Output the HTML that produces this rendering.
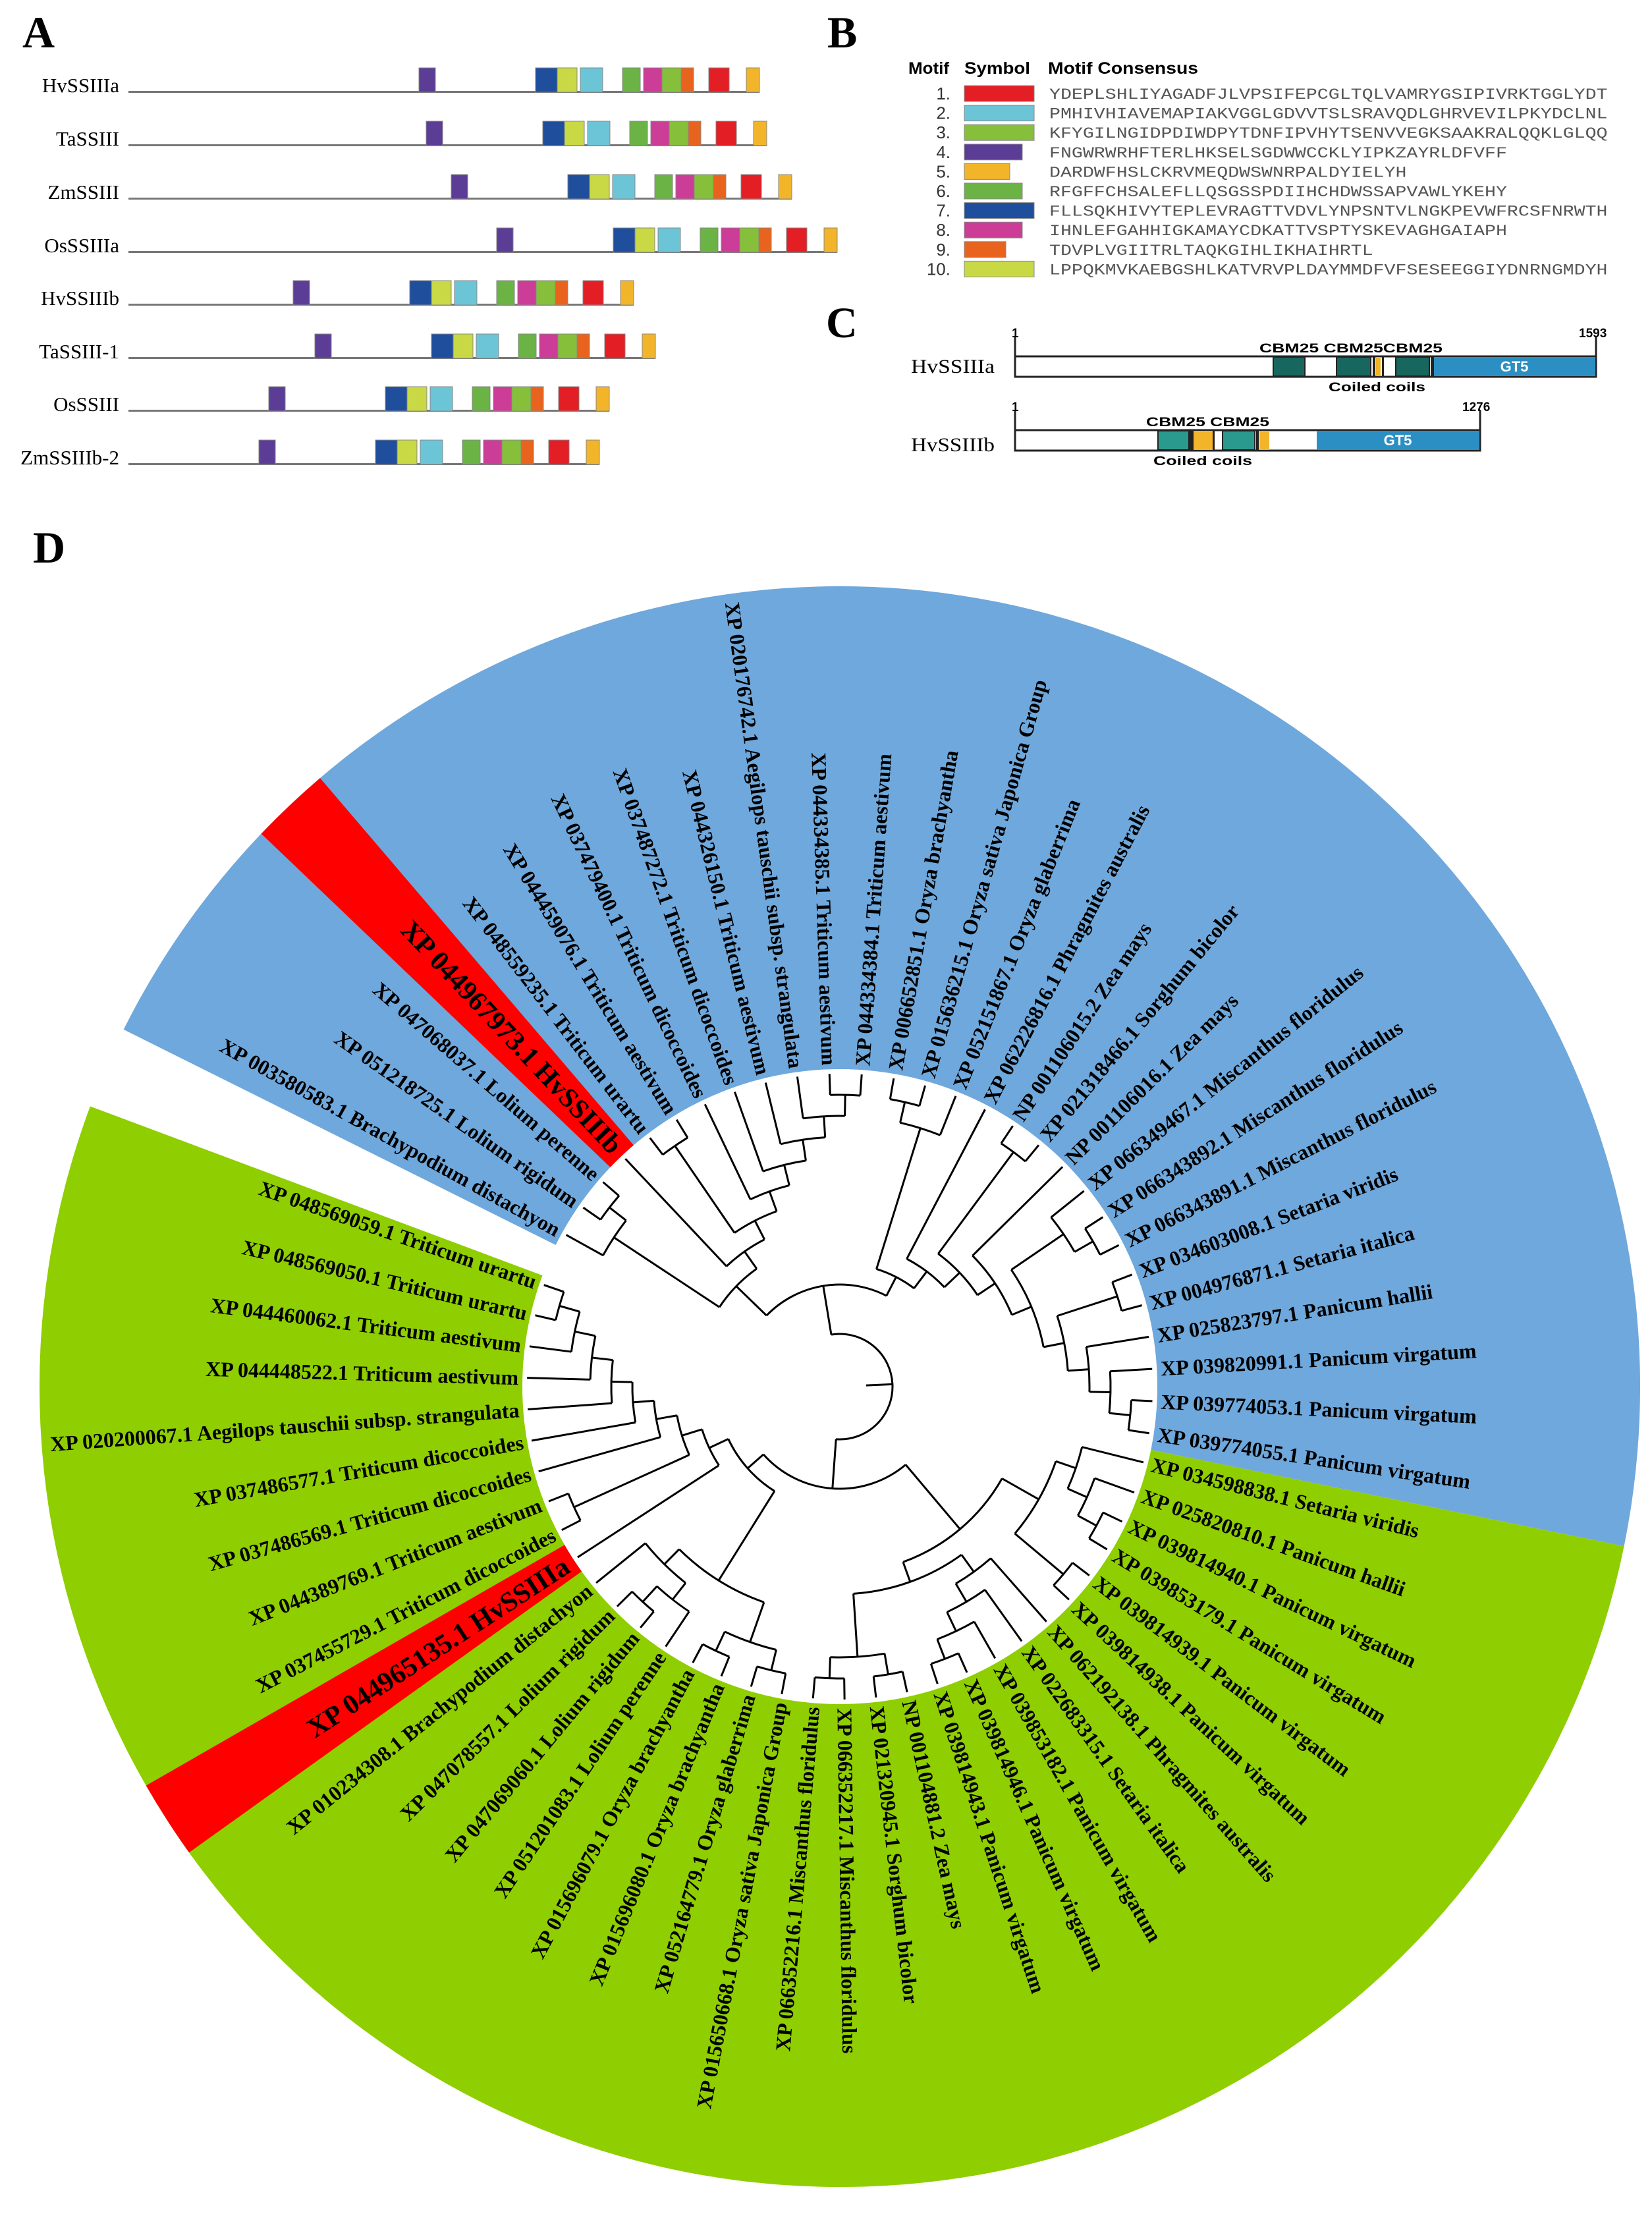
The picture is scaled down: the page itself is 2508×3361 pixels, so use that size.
<!DOCTYPE html>
<html><head><meta charset="utf-8">
<style>
html,body{margin:0;padding:0;background:#fff;}
svg{display:block;}
.ser{font-family:"Liberation Serif",serif;}
.sans{font-family:"Liberation Sans",sans-serif;}
.mono{font-family:"Liberation Mono",monospace;}
</style></head>
<body>
<svg id="s" xmlns="http://www.w3.org/2000/svg" width="2508" height="3361" viewBox="0 0 2508 3361">
<rect width="2508" height="3361" fill="#fff"/>
<text x="34" y="72" class="ser" font-size="68" font-weight="bold">A</text>
<text x="1256" y="72" class="ser" font-size="68" font-weight="bold">B</text>
<text x="1254" y="512" class="ser" font-size="66" font-weight="bold">C</text>
<text x="50" y="854" class="ser" font-size="68" font-weight="bold">D</text>
<g id="pa"></g>
<g class="sans" font-weight="bold" font-size="25">
<text x="1379" y="112" textLength="62" lengthAdjust="spacingAndGlyphs">Motif</text>
<text x="1464" y="112" textLength="100" lengthAdjust="spacingAndGlyphs">Symbol</text>
<text x="1591" y="112" textLength="228" lengthAdjust="spacingAndGlyphs">Motif Consensus</text>
</g>
<g id="pb"></g>
<g>
<line x1="1541" y1="510" x2="1541" y2="541" stroke="#222" stroke-width="3"/>
<line x1="2423" y1="510" x2="2423" y2="541" stroke="#222" stroke-width="3"/>
<text x="1536" y="512" class="sans" font-weight="bold" font-size="19">1</text>
<text x="2397" y="512" class="sans" font-weight="bold" font-size="19">1593</text>
<rect x="1541" y="541" width="882" height="31" fill="#fff" stroke="#222" stroke-width="3"/>
<rect x="1933" y="542" width="48" height="29" fill="#17675f" stroke="#222" stroke-width="2"/>
<rect x="2029" y="542" width="52" height="29" fill="#17675f" stroke="#222" stroke-width="2"/>
<rect x="2084" y="542" width="4" height="29" fill="#222"/>
<rect x="2089" y="542" width="7" height="29" fill="#f2b52a"/>
<rect x="2098" y="542" width="3" height="29" fill="#222"/>
<rect x="2119" y="542" width="51" height="29" fill="#17675f" stroke="#222" stroke-width="2"/>
<rect x="2172" y="542" width="5" height="29" fill="#222"/>
<rect x="2177" y="542" width="245" height="29" fill="#2b8fc4"/>
<text x="2299" y="564" class="sans" font-weight="bold" font-size="22" fill="#fff" text-anchor="middle">GT5</text>
<text x="1912" y="535" class="sans" font-weight="bold" font-size="19" textLength="278" lengthAdjust="spacingAndGlyphs">CBM25 CBM25CBM25</text>
<text x="2017" y="594" class="sans" font-weight="bold" font-size="19" textLength="147" lengthAdjust="spacingAndGlyphs">Coiled coils</text>
<text x="1383" y="566" class="ser" font-size="30" textLength="127" lengthAdjust="spacingAndGlyphs">HvSSIIIa</text>

<line x1="1541" y1="622" x2="1541" y2="653" stroke="#222" stroke-width="3"/>
<line x1="2247" y1="622" x2="2247" y2="653" stroke="#222" stroke-width="3"/>
<text x="1536" y="624" class="sans" font-weight="bold" font-size="19">1</text>
<text x="2220" y="624" class="sans" font-weight="bold" font-size="19">1276</text>
<rect x="1541" y="653" width="706" height="31" fill="#fff" stroke="#222" stroke-width="3"/>
<rect x="1758" y="654" width="47" height="29" fill="#2a9a8e" stroke="#222" stroke-width="2"/>
<rect x="1805" y="654" width="7" height="29" fill="#222"/>
<rect x="1812" y="654" width="29" height="29" fill="#f2b52a"/>
<rect x="1841" y="654" width="3" height="29" fill="#222"/>
<rect x="1856" y="654" width="49" height="29" fill="#2a9a8e" stroke="#222" stroke-width="2"/>
<rect x="1907" y="654" width="4" height="29" fill="#222"/>
<rect x="1912" y="654" width="15" height="29" fill="#f2b52a"/>
<rect x="1999" y="654" width="247" height="29" fill="#2b8fc4"/>
<text x="2122" y="676" class="sans" font-weight="bold" font-size="22" fill="#fff" text-anchor="middle">GT5</text>
<text x="1740" y="647" class="sans" font-weight="bold" font-size="19" textLength="187" lengthAdjust="spacingAndGlyphs">CBM25 CBM25</text>
<text x="1751" y="706" class="sans" font-weight="bold" font-size="19" textLength="150" lengthAdjust="spacingAndGlyphs">Coiled coils</text>
<text x="1383" y="685" class="ser" font-size="30" textLength="127" lengthAdjust="spacingAndGlyphs">HvSSIIIb</text>
</g>
<g id="pd"></g>
</svg>
<script>
(function(){
var NS="http://www.w3.org/2000/svg";
function el(p,tag,at,txt){var e=document.createElementNS(NS,tag);for(var k in at)e.setAttribute(k,at[k]);if(txt!==undefined)e.textContent=txt;p.appendChild(e);return e;}
var pa=document.getElementById('pa');
var names=["HvSSIIIa","TaSSIII","ZmSSIII","OsSSIIIa","HvSSIIIb","TaSSIII-1","OsSSIII","ZmSSIIIb-2"];
var ly=[140,221,302,383,463,544,624,705];
var bs=[813,824,862,931,622,655,585,570];
var pat=[[-177,25,"#5b3d96"],[0,33,"#1f4e9c"],[33,30,"#c9d845"],[68,34,"#6cc5d6"],[132,27,"#6ab344"],[164,28,"#cc3d97"],[192,29,"#86bf3a"],[221,19,"#e8641e"],[263,31,"#e31e24"],[320,20,"#f2b52a"]];
for(var i=0;i<8;i++){
 el(pa,'text',{x:181,y:ly[i],'text-anchor':'end','class':'ser','font-size':31},names[i]);
 el(pa,'rect',{x:195,y:ly[i]-2,width:bs[i]+340-195,height:3,fill:'#777'});
 pat.forEach(function(p){el(pa,'rect',{x:bs[i]+p[0],y:ly[i]-37,width:p[1],height:37,fill:p[2],stroke:'#888','stroke-width':1});});
}
var pb=document.getElementById('pb');
var cols=["#e31e24","#6cc5d6","#86bf3a","#5b3d96","#f2b52a","#6ab344","#1f4e9c","#cc3d97","#e8641e","#c9d845"];
var ends=[1570,1570,1570,1552,1533,1552,1570,1552,1527,1570];
var seqs=["YDEPLSHLIYAGADFJLVPSIFEPCGLTQLVAMRYGSIPIVRKTGGLYDT","PMHIVHIAVEMAPIAKVGGLGDVVTSLSRAVQDLGHRVEVILPKYDCLNL","KFYGILNGIDPDIWDPYTDNFIPVHYTSENVVEGKSAAKRALQQKLGLQQ","FNGWRWRHFTERLHKSELSGDWWCCKLYIPKZAYRLDFVFF","DARDWFHSLCKRVMEQDWSWNRPALDYIELYH","RFGFFCHSALEFLLQSGSSPDIIHCHDWSSAPVAWLYKEHY","FLLSQKHIVYTEPLEVRAGTTVDVLYNPSNTVLNGKPEVWFRCSFNRWTH","IHNLEFGAHHIGKAMAYCDKATTVSPTYSKEVAGHGAIAPH","TDVPLVGIITRLTAQKGIHLIKHAIHRTL","LPPQKMVKAEBGSHLKATVRVPLDAYMMDFVFSESEEGGIYDNRNGMDYH"];
for(var i=0;i<10;i++){
 var yc=142+i*29.6;
 el(pb,'text',{x:1443,y:yc+9,'text-anchor':'end','class':'sans','font-size':26,fill:'#333'},(i+1)+".");
 el(pb,'rect',{x:1464,y:yc-12,width:ends[i]-1464,height:24,fill:cols[i],stroke:'#888','stroke-width':1});
 el(pb,'text',{x:1593,y:yc+8,'class':'mono','font-size':23,fill:'#555',textLength:seqs[i].length*16.95,lengthAdjust:'spacingAndGlyphs'},seqs[i]);
}
var pd=document.getElementById('pd');
var cx=1275,cy=2105,R=1215;
function pt(r,a){var t=a*Math.PI/180;return [cx+r*Math.cos(t),cy+r*Math.sin(t)];}
function wedge(a1,a2,r,fill){var p1=pt(r,a1),p2=pt(r,a2);var lg=(a2-a1)>180?1:0;
 el(pd,'path',{d:'M'+cx+' '+cy+' L'+p1[0]+' '+p1[1]+' A'+r+' '+r+' 0 '+lg+' 1 '+p2[0]+' '+p2[1]+' Z',fill:fill});}
wedge(206.5,371.5,R,'#6fa8dc');
wedge(11.5,200.5,R,'#8fce00');
wedge(223.7,229.5,R,'#ff0000');
wedge(144.4,150.1,R,'#ff0000');
el(pd,'circle',{cx:cx,cy:cy,r:482,fill:'#fff'});
var labels=["XP 003580583.1 Brachypodium distachyon","XP 051218725.1 Lolium rigidum","XP 047068037.1 Lolium perenne","XP 044967973.1 HvSSIIIb","XP 048559235.1 Triticum urartu","XP 044459076.1 Triticum aestivum","XP 037479400.1 Triticum dicoccoides","XP 037487272.1 Triticum dicoccoides","XP 044326150.1 Triticum aestivum","XP 020176742.1 Aegilops tauschii subsp. strangulata","XP 044334385.1 Triticum aestivum","XP 044334384.1 Triticum aestivum","XP 006652851.1 Oryza brachyantha","XP 015636215.1 Oryza sativa Japonica Group","XP 052151867.1 Oryza glaberrima","XP 062226816.1 Phragmites australis","NP 001106015.2 Zea mays","XP 021318466.1 Sorghum bicolor","NP 001106016.1 Zea mays","XP 066349467.1 Miscanthus floridulus","XP 066343892.1 Miscanthus floridulus","XP 066343891.1 Miscanthus floridulus","XP 034603008.1 Setaria viridis","XP 004976871.1 Setaria italica","XP 025823797.1 Panicum hallii","XP 039820991.1 Panicum virgatum","XP 039774053.1 Panicum virgatum","XP 039774055.1 Panicum virgatum",
"XP 034598838.1 Setaria viridis","XP 025820810.1 Panicum hallii","XP 039814940.1 Panicum virgatum","XP 039853179.1 Panicum virgatum","XP 039814939.1 Panicum virgatum","XP 039814938.1 Panicum virgatum","XP 062192138.1 Phragmites australis","XP 022683315.1 Setaria italica","XP 039853182.1 Panicum virgatum","XP 039814946.1 Panicum virgatum","XP 039814943.1 Panicum virgatum","NP 001104881.2 Zea mays","XP 021320945.1 Sorghum bicolor","XP 066352217.1 Miscanthus floridulus","XP 066352216.1 Miscanthus floridulus","XP 015650668.1 Oryza sativa Japonica Group","XP 052164779.1 Oryza glaberrima","XP 015696080.1 Oryza brachyantha","XP 015696079.1 Oryza brachyantha","XP 051201083.1 Lolium perenne","XP 047069060.1 Lolium rigidum","XP 047078557.1 Lolium rigidum","XP 010234308.1 Brachypodium distachyon","XP 044965135.1 HvSSIIIa","XP 037455729.1 Triticum dicoccoides","XP 044389769.1 Triticum aestivum","XP 037486569.1 Triticum dicoccoides","XP 037486577.1 Triticum dicoccoides","XP 020200067.1 Aegilops tauschii subsp. strangulata","XP 044448522.1 Triticum aestivum","XP 044460062.1 Triticum aestivum","XP 048569050.1 Triticum urartu","XP 048569059.1 Triticum urartu"];
function la(k){return k<=28?209+(k-1)*5.91:374+(k-29)*5.78;}
for(var k=1;k<=61;k++){
 var a=la(k),red=(k==4||k==52);
 var r=red?494:488;var p=pt(r,a);var an=((a%360)+360)%360;
 var left=(an>90&&an<270);
 var rot=left?an-180:an;
 el(pd,'text',{x:p[0],y:p[1],'class':'ser','font-weight':'bold','font-size':red?42:32,'text-anchor':left?'end':'start','dominant-baseline':'central',transform:'rotate('+rot+' '+p[0]+' '+p[1]+')',fill:'#000'},labels[k-1]);
}
var A=[[1,[2,3]],[4,[[5,6],[7,[8,[9,[10,[11,12]]]]]]]];
var B=[[[13,14],15],[16,[[17,18],[19,[[20,[21,22]],[[23,24],[25,[26,[27,28]]]]]]]]];
var C=[[[29,[30,[31,32]]],[33,34]],[[35,[36,[37,[38,39]]]],[[40,41],[42,43]]]];
var D=[[[44,45],[46,47]],[[48,[49,50]],51]];
var E=[52,[[53,54],[55,[56,[57,[58,[59,[60,61]]]]]]]];
var root=[[A,B],[C,[D,E]]];
var g=el(pd,'g',{stroke:'#000','stroke-width':3,fill:'none'});
function line(a,r1,r2){var p1=pt(r1,a),p2=pt(r2,a);el(g,'line',{x1:p1[0],y1:p1[1],x2:p2[0],y2:p2[1]});}
function arc(r,a1,a2){var p1=pt(r,a1),p2=pt(r,a2);var lg=(a2-a1)>180?1:0;el(g,'path',{d:'M'+p1[0]+' '+p1[1]+' A'+r+' '+r+' 0 '+lg+' 1 '+p2[0]+' '+p2[1]});}
function height(n){if(typeof n==='number')return 0;var m=0;n.forEach(function(c){m=Math.max(m,height(c));});return m+1;}
function lay(n,isRoot){
 if(typeof n==='number')return {a:la(n),r:475};
 var ch=n.map(function(c){return lay(c,false);});
 var h=height(n);var r=isRoot?80:Math.max(110,475-h*32);
 var a=(ch[0].a+ch[ch.length-1].a)/2;
 arc(r,ch[0].a,ch[ch.length-1].a);
 ch.forEach(function(c){line(c.a,r,c.r);});
 return {a:a,r:r};
}
var rt=lay(root,true);
line(rt.a,40,80);
})();
</script>
</body></html>
